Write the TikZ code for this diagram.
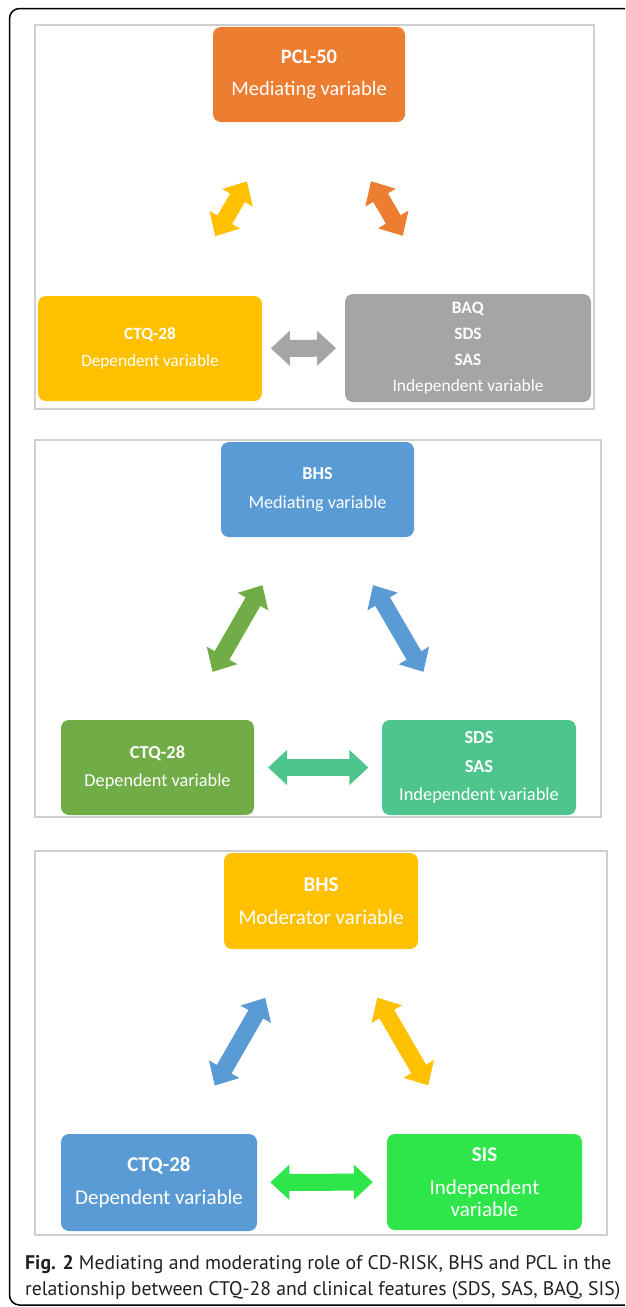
\documentclass[tikz,border=0pt]{standalone}
\usepackage{fontspec}
\setmainfont{Carlito}
\newfontfamily\capfont{PT Sans}
\usetikzlibrary{arrows.meta,calc}
\definecolor{orangeA}{HTML}{ED7D31}
\definecolor{yellowA}{HTML}{FFC000}
\definecolor{grayA}{HTML}{A5A5A5}
\definecolor{blueB}{HTML}{5B9BD5}
\definecolor{greenB}{HTML}{70AD47}
\definecolor{tealB}{HTML}{4EC58D}
\definecolor{limeC}{HTML}{2EE64A}
\definecolor{panelgray}{HTML}{CFCFCF}
\definecolor{captext}{HTML}{231F20}
\newcommand\boxsize[2]{\fontsize{#1}{#2}\selectfont}
\tikzset{
  varbox/.style={fill=#1, rounded corners=8pt, text=white, align=center, inner sep=0pt},
  panel/.style={draw=panelgray, line width=1.2pt},
  fatlink/.style={draw=#1, line width=17pt, >={Triangle[width=34pt,length=19pt]}, <->},
  capline/.style={anchor=base west, inner sep=0pt, text=captext, font=\capfont\fontsize{19.7}{26}\selectfont}
}
\begin{document}
\begin{tikzpicture}[x=1pt, y=-1pt]
\useasboundingbox (0,0) rectangle (625,1307);
\clip (0,0) rectangle (625,1307);
% outer frame
\draw[line width=1.5pt, rounded corners=10pt] (640,8.5) -- (9.5,8.5) -- (9.5,1305) -- (640,1305);

% Panel 1: PCL-50
\draw[panel] (35,25) rectangle (594,409);
\node[varbox=orangeA, minimum width=192pt, minimum height=95pt, font=\boxsize{20.5}{32}] (pcl) at (309,74.5) {\textbf{PCL-50}\\Mediating variable};
\node[varbox=yellowA, minimum width=224pt, minimum height=105pt, font=\boxsize{17.2}{27}] (ctqA) at (150,348.5) {\textbf{CTQ-28}\\Dependent variable};
\node[varbox=grayA, minimum width=246pt, minimum height=108pt, font=\boxsize{17.4}{26}] (indA) at (468,348) {\textbf{BAQ}\\\textbf{SDS}\\\textbf{SAS}\\Independent variable};
\draw[fatlink=yellowA] ($(ctqA)!0.41!(pcl)$) -- ($(ctqA)!0.61!(pcl)$);
\draw[fatlink=orangeA] ($(pcl)!0.39!(indA)$) -- ($(pcl)!0.59!(indA)$);
\draw[fatlink=grayA] ($(ctqA)!0.38!(indA)$) -- ($(ctqA)!0.585!(indA)$);

% Panel 2: BHS mediating
\draw[panel] (35,440) rectangle (601,817);
\node[varbox=blueB, minimum width=193pt, minimum height=95pt, font=\boxsize{18.2}{29}] (bhsB) at (317.5,489.5) {\textbf{BHS}\\Mediating variable};
\node[varbox=greenB, minimum width=193pt, minimum height=95pt, font=\boxsize{18.3}{28}] (ctqB) at (157.5,767.5) {\textbf{CTQ-28}\\Dependent variable};
\node[varbox=tealB, minimum width=194pt, minimum height=95pt, font=\boxsize{18.4}{28.5}] (indB) at (479,767.5) {\textbf{SDS}\\\textbf{SAS}\\Independent variable};
\draw[fatlink=greenB] ($(ctqB)!0.344!(bhsB)$) -- ($(ctqB)!0.656!(bhsB)$);
\draw[fatlink=blueB] ($(bhsB)!0.344!(indB)$) -- ($(bhsB)!0.656!(indB)$);
\draw[fatlink=tealB] ($(ctqB)!0.344!(indB)$) -- ($(ctqB)!0.656!(indB)$);

% Panel 3: BHS moderator
\draw[panel] (35,851) rectangle (607,1235);
\node[varbox=yellowA, minimum width=194pt, minimum height=96pt, font=\boxsize{21}{33}] (bhsC) at (321,901) {\textbf{BHS}\\Moderator variable};
\node[varbox=blueB, minimum width=196pt, minimum height=97pt, font=\boxsize{21}{33}] (ctqC) at (159,1182.5) {\textbf{CTQ-28}\\Dependent variable};
\node[varbox=limeC, minimum width=195pt, minimum height=96pt, font=\boxsize{21}{22.5}] (sisC) at (484.5,1182) {\textbf{SIS}\\[10.5pt]Independent\\variable};
\draw[fatlink=blueB] ($(ctqC)!0.344!(bhsC)$) -- ($(ctqC)!0.656!(bhsC)$);
\draw[fatlink=yellowA] ($(bhsC)!0.344!(sisC)$) -- ($(bhsC)!0.656!(sisC)$);
\draw[fatlink=limeC] ($(ctqC)!0.342!(sisC)$) -- ($(ctqC)!0.657!(sisC)$);

% caption
\node[capline] (capA) at (25,1269) {\textbf{Fig. 2} Mediating and moderating role of CD-RISK, BHS and PCL in the};
\node[capline] (capB) at (25,1295) {relationship between CTQ-28 and clinical features (SDS, SAS, BAQ, SIS)};
\end{tikzpicture}
\end{document}
